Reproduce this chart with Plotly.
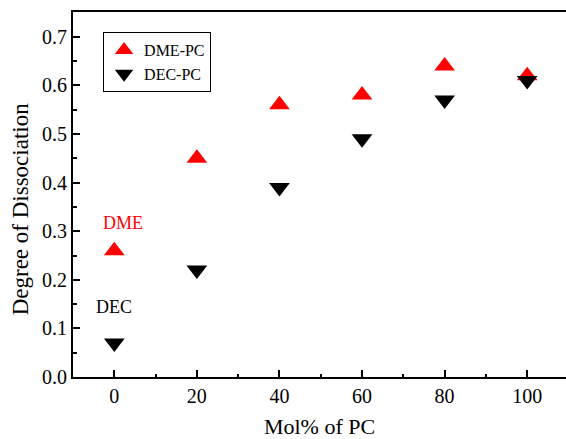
import plotly.graph_objects as go

# Degree of dissociation vs. PC content for two solvent blends
mol_pc = [0, 20, 40, 60, 80, 100]
dme_pc = [0.26, 0.45, 0.56, 0.58, 0.64, 0.62]
dec_pc = [0.07, 0.22, 0.39, 0.49, 0.57, 0.61]

x_ticks = [0, 20, 40, 60, 80, 100]
y_ticks = [0.0, 0.1, 0.2, 0.3, 0.4, 0.5, 0.6, 0.7]

FONT = "Liberation Serif, Times New Roman, serif"

fig = go.Figure()
fig.add_trace(go.Scatter(
    x=mol_pc, y=dme_pc, mode="markers", name="DME-PC",
    marker=dict(symbol="triangle-up", size=18, color="#ff0000"),
))
fig.add_trace(go.Scatter(
    x=mol_pc, y=dec_pc, mode="markers", name="DEC-PC",
    marker=dict(symbol="triangle-down", size=18, color="#000000"),
))

axis_common = dict(
    showline=True, linecolor="black", linewidth=2,
    ticks="inside", tickcolor="black", tickwidth=1.5, ticklen=7,
    showgrid=False, zeroline=False,
    tickfont=dict(family=FONT, size=20, color="black"),
)

fig.update_xaxes(
    range=[-10, 109.4], tickvals=x_ticks, mirror=True,
    minor=dict(ticks="inside", dtick=10, tick0=-10, ticklen=3.5,
               tickwidth=1.5, tickcolor="black"),
    title=dict(text="Mol% of PC", font=dict(family=FONT, size=22, color="black"),
               standoff=15),
    **axis_common,
)
fig.update_yaxes(
    range=[0, 0.751], tickvals=y_ticks, tickformat=".1f",
    minor=dict(ticks="inside", dtick=0.05, tick0=0, ticklen=3.5,
               tickwidth=1.5, tickcolor="black"),
    **axis_common,
)

fig.add_annotation(
    text="Degree of Dissociation", xref="paper", yref="paper",
    x=-0.107, y=0.46, xanchor="center", yanchor="middle",
    textangle=-90, showarrow=False,
    font=dict(family=FONT, size=23, color="black"),
)
fig.add_annotation(
    text="DME", x=2.2, y=0.317, showarrow=False,
    font=dict(family=FONT, size=18, color="#ff0000"),
)
fig.add_annotation(
    text="DEC", x=0, y=0.144, showarrow=False,
    font=dict(family=FONT, size=18, color="black"),
)

fig.update_layout(
    width=566, height=439,
    margin=dict(l=73, r=0, t=12, b=62),
    paper_bgcolor="white", plot_bgcolor="white",
    showlegend=True,
    legend=dict(
        x=0.061, y=0.945, xanchor="left", yanchor="top",
        bordercolor="black", borderwidth=1, bgcolor="white",
        font=dict(family=FONT, size=16, color="black"),
        itemsizing="trace",
    ),
)

fig.write_html("out.html")
